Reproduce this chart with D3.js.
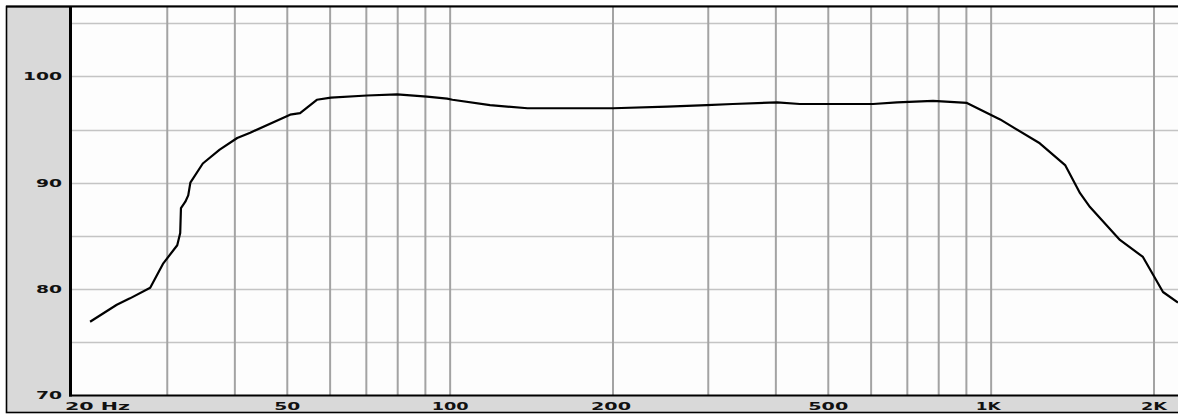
<!DOCTYPE html>
<html>
<head>
<meta charset="utf-8">
<script src="https://d3js.org/d3.v7.min.js"></script>
<style>
html,body{margin:0;padding:0;background:#fff;}
svg{display:block;}
</style>
</head>
<body>
<svg id="chart" width="1178" height="418"></svg>
<script>
// Frequency response data (Hz, dB)
const freqs = [21.6, 24.2, 25.6, 27.9, 29.5, 31.3, 31.7, 31.8, 32.4, 32.8, 33.1, 34.9, 37.5, 40.4, 42.7, 50.6, 52.8, 56.7, 60.2, 70.2, 79.8, 90.6, 98.7, 101, 118.5, 139, 200, 252, 298, 333, 402, 443, 605, 670, 781, 902, 1039, 1230, 1370, 1460, 1523, 1730, 1908, 2078, 2215];
const levels = [76.9, 78.5, 79.1, 80.1, 82.4, 84.1, 85.25, 87.6, 88.2, 88.8, 90.0, 91.8, 93.1, 94.2, 94.7, 96.4, 96.55, 97.8, 98.0, 98.2, 98.3, 98.1, 97.9, 97.8, 97.3, 97.0, 97.0, 97.15, 97.3, 97.4, 97.55, 97.4, 97.4, 97.55, 97.7, 97.5, 95.95, 93.7, 91.65, 89.0, 87.7, 84.6, 83.0, 79.7, 78.7];

const xGrid = [30, 40, 50, 60, 70, 80, 90, 100, 200, 300, 400, 500, 600, 700, 800, 900, 1000, 2000];
const yGrid = [75, 80, 85, 90, 95, 100, 105];
const xTickVals = [20, 50, 100, 200, 500, 1000, 2000];
const xTickText = ["20  Hz", "50", "100", "200", "500", "1K", "2K"];
const yTickVals = [70, 80, 90, 100];
const yTickText = ["70", "80", "90", "100"];

const svg = d3.select("#chart");
const L = 72, R = 1178, T = 7, B = 395;

const x = d3.scaleLog().domain([20, 20 * Math.pow(10, (R - L) / 541)]).range([L, R]);
const y = d3.scaleLinear().domain([70, 70 + (B - T) / 10.62]).range([B, T]);

// outer frame panel
svg.append("rect").attr("x", 6.5).attr("y", 6.5).attr("width", 1180).attr("height", 406)
  .attr("fill", "#d9d9d9").attr("stroke", "#000").attr("stroke-width", 1.6);

// plot area
svg.append("rect").attr("x", L).attr("y", T).attr("width", R - L).attr("height", B - T)
  .attr("fill", "#fdfdfd");

// horizontal grid
svg.append("g").selectAll("line").data(yGrid).join("line")
  .attr("x1", L).attr("x2", R)
  .attr("y1", d => Math.round(y(d)) + 0.5).attr("y2", d => Math.round(y(d)) + 0.5)
  .attr("stroke", "#c4c4c4").attr("stroke-width", 1.3);

// vertical grid
svg.append("g").selectAll("line").data(xGrid).join("line")
  .attr("x1", d => x(d)).attr("x2", d => x(d))
  .attr("y1", T).attr("y2", B)
  .attr("stroke", "#a3a3a3").attr("stroke-width", 2);

// top border line
svg.append("line").attr("x1", 6).attr("x2", R).attr("y1", 6.5).attr("y2", 6.5)
  .attr("stroke", "#000").attr("stroke-width", 1.8);

// axes lines
svg.append("line").attr("x1", 70.5).attr("x2", 70.5).attr("y1", 6).attr("y2", 396.5)
  .attr("stroke", "#000").attr("stroke-width", 3);
svg.append("line").attr("x1", 69).attr("x2", R).attr("y1", 395.5).attr("y2", 395.5)
  .attr("stroke", "#000").attr("stroke-width", 2);

// curve
const line = d3.line().x(d => x(d[0])).y(d => y(d[1])).curve(d3.curveLinear);
svg.append("path").datum(freqs.map((f, i) => [f, levels[i]]))
  .attr("d", line).attr("fill", "none").attr("stroke", "#000")
  .attr("stroke-width", 2.2).attr("stroke-linejoin", "round");

// y tick labels
const yLen = {"70": 26, "80": 26, "90": 26, "100": 39};
svg.append("g").selectAll("text").data(yTickVals).join("text")
  .attr("x", 62).attr("y", d => y(d)).attr("dy", "0.36em")
  .attr("text-anchor", "end")
  .attr("textLength", (d, i) => yLen[yTickText[i]])
  .attr("lengthAdjust", "spacingAndGlyphs")
  .attr("font-family", "DejaVu Sans, Verdana, sans-serif")
  .attr("font-weight", "bold").attr("font-size", 11).attr("fill", "#111")
  .text((d, i) => yTickText[i]);

// x tick labels
const xLen = [65, 26, 37, 40, 40, 25, 26];
svg.append("g").selectAll("text").data(xTickVals).join("text")
  .attr("x", (d, i) => i === 0 ? 65 : x(d) - (d === 1000 ? 3 : 0) - (d === 200 ? 2 : 0))
  .attr("y", 410)
  .attr("text-anchor", (d, i) => i === 0 ? "start" : "middle")
  .attr("textLength", (d, i) => xLen[i])
  .attr("lengthAdjust", "spacingAndGlyphs")
  .attr("font-family", "DejaVu Sans, Verdana, sans-serif")
  .attr("font-weight", "bold").attr("font-size", 11).attr("fill", "#111")
  .text((d, i) => xTickText[i]);
</script>
</body>
</html>
